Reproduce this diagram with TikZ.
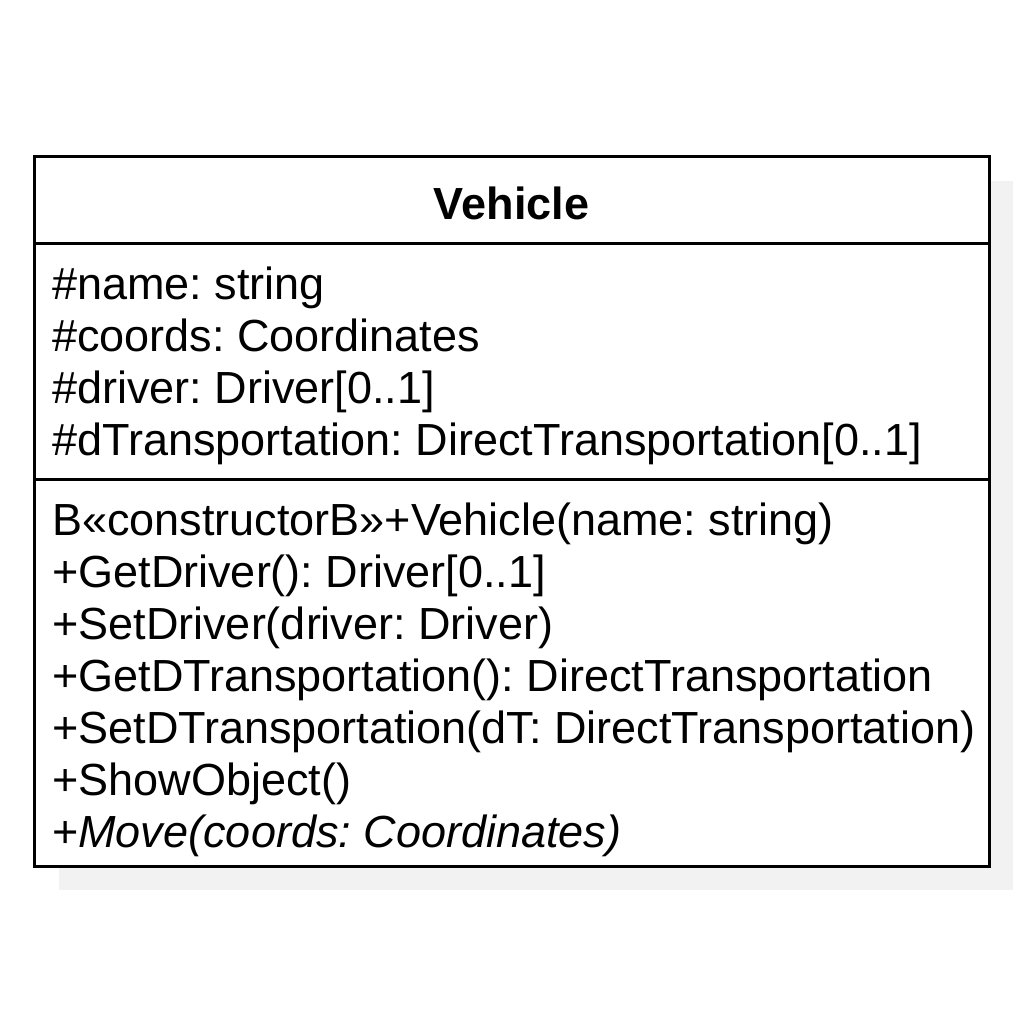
\documentclass[tikz,border=0pt]{standalone}
\usepackage{fontspec}
\setmainfont{Liberation Sans}
\frenchspacing
\definecolor{shadowgray}{RGB}{242,242,242}
\begin{document}
\begin{tikzpicture}[x=1pt,y=1pt,
  member/.style={anchor=base west,inner sep=0pt,font=\fontsize{45}{52}\selectfont},
  title/.style={anchor=base,inner sep=0pt,font=\fontsize{45}{52}\selectfont\bfseries},
  frame/.style={draw=black,line width=3pt}]
\useasboundingbox (0,0) rectangle (1024,-1024);
\fill[shadowgray] (59,-181) rectangle (1013,-890);
\fill[white] (34,-157) rectangle (989,-866);
\node[title] (t) at (511.5,-220) {Vehicle};
\node[member] (a1) at (52,-299) {\#name: string};
\node[member] (a2) at (52,-351) {\#coords: Coordinates};
\node[member] (a3) at (52,-403) {\#driver: Driver[0..1]};
\node[member] (a4) at (52,-455) {\#dTransportation: DirectTransportation[0..1]};
\node[member] (m1) at (52,-535) {B«constructorB»+Vehicle(name: string)};
\node[member] (m2) at (52,-587) {+GetDriver(): Driver[0..1]};
\node[member] (m3) at (52,-639) {+SetDriver(driver: Driver)};
\node[member] (m4) at (52,-691) {+GetDTransportation(): DirectTransportation};
\node[member] (m5) at (52,-743) {+SetDTransportation(dT: DirectTransportation)};
\node[member] (m6) at (52,-795) {+ShowObject()};
\node[member] (m7) at (52,-847) {+\itshape Move(coords: Coordinates)};
\draw[frame] (34,-157) rectangle (989,-866);
\draw[frame] (34,-243) -- (989,-243);
\draw[frame] (34,-479) -- (989,-479);
\end{tikzpicture}
\end{document}
